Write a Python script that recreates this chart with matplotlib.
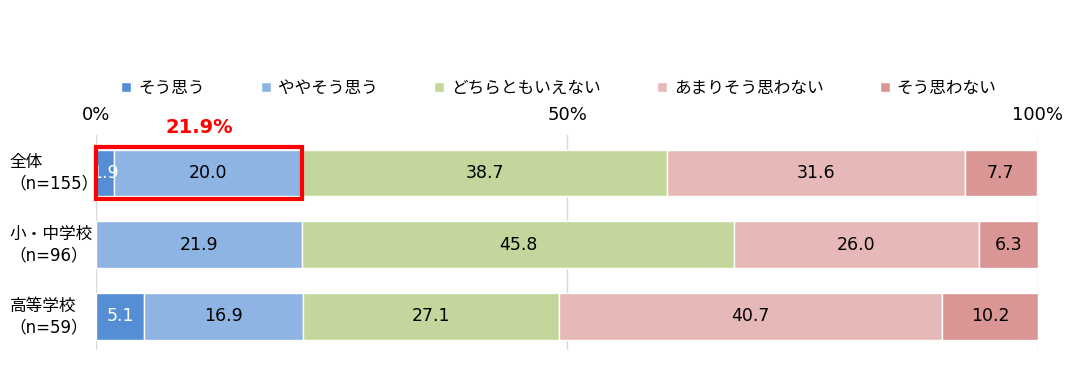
import matplotlib.pyplot as plt
from matplotlib.patches import Rectangle
import numpy as np

plt.rcParams['font.family'] = ['DejaVu Sans', 'Noto Sans CJK JP']

groups = ["全体\n（n=155）", "小・中学校\n（n=96）", "高等学校\n（n=59）"]
answers = ["そう思う", "ややそう思う", "どちらともいえない", "あまりそう思わない", "そう思わない"]
colors = ["#558ED5", "#8EB4E3", "#C3D69B", "#E6B9B8", "#D99694"]
values = np.array([
    [1.9, 20.0, 38.7, 31.6, 7.7],
    [0.0, 21.9, 45.8, 26.0, 6.3],
    [5.1, 16.9, 27.1, 40.7, 10.2],
])
highlight = "21.9%"

fig = plt.figure(figsize=(10.79, 3.88), dpi=100)
ax = fig.add_axes([0.089, 0.098, 0.873, 0.554])

y = np.arange(len(groups))
left = np.zeros(len(groups))
for j, name in enumerate(answers):
    vals = values[:, j]
    ax.barh(y, vals, left=left, height=0.655, color=colors[j],
            edgecolor="white", linewidth=1, label=name, zorder=2)
    for i, v in enumerate(vals):
        if v > 0:
            ax.text(left[i] + v / 2, y[i], f"{v:.1f}", ha="center", va="center",
                    fontsize=12.5, color="white" if j == 0 else "black",
                    zorder=4, clip_on=True)
    left += vals

# red box around the positive answers of the first row
pos = values[0, 0] + values[0, 1]
ax.add_patch(Rectangle((0, -0.36), pos, 0.72, fill=False, edgecolor="#FF0000",
                       linewidth=3, zorder=5, clip_on=False))
ax.text(pos / 2, -0.64, highlight, ha="center", va="center", fontsize=14,
        fontweight="bold", color="#FF0000")

ax.set_xlim(0, 100)
ax.set_ylim(2.47, -0.53)
ax.set_xticks([0, 50, 100])
ax.set_xticklabels(["0%", "50%", "100%"], fontsize=13)
ax.xaxis.tick_top()
ax.tick_params(axis="x", length=0, pad=8)
ax.set_yticks([])
ax.grid(axis="x", color="#D9D9D9", linewidth=1, zorder=0)
for s in ax.spines.values():
    s.set_visible(False)

for i, g in enumerate(groups):
    yy = ax.transData.transform((0, y[i]))[1]
    fy = fig.transFigure.inverted().transform((0, yy))[1]
    fig.text(0.009, fy, g, ha="left", va="center", fontsize=12, linespacing=1.25)

handles, labels = ax.get_legend_handles_labels()
fig.legend(handles, labels, loc="center", bbox_to_anchor=(0.518, 0.773), ncol=5,
           frameon=False, fontsize=12, handlelength=0.6, handleheight=0.6,
           columnspacing=3.4, handletextpad=0.4)

fig.savefig("out.png", dpi=100)
